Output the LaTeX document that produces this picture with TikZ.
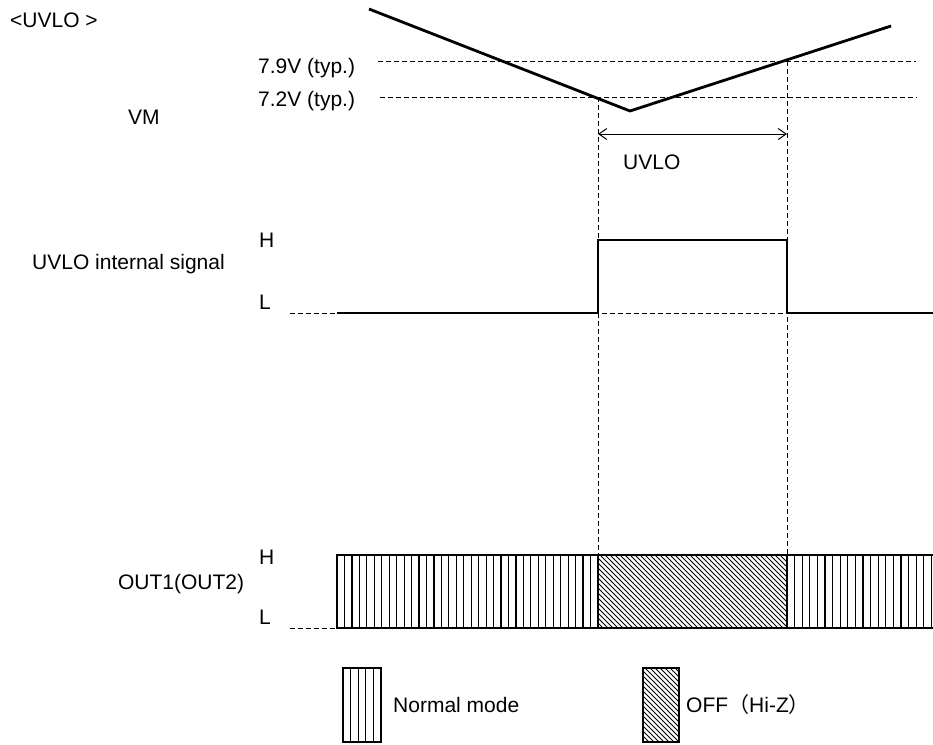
\documentclass[tikz,border=0pt]{standalone}
\usepackage{fontspec}
\setmainfont{Liberation Sans}
\newfontfamily\cjk{Noto Sans CJK JP}
\usetikzlibrary{arrows.meta}
\begin{document}
\begin{tikzpicture}[x=1pt,y=-1pt,
  lbl/.style={font=\fontsize{21}{24}\selectfont, inner sep=0pt, anchor=base west},
  sig/.style={line width=2.8pt, line join=miter},
  guide/.style={line width=0.9pt, dash pattern=on 4.5pt off 3.5pt},
  hatchv/.style={line width=1.2pt},
  hatchd/.style={line width=0.8pt},
  dimarrow/.style={line width=1pt, {Straight Barb[length=8pt,width=11pt]}-{Straight Barb[length=8pt,width=11pt]}}]
\useasboundingbox (0,0) rectangle (933,744);
\fill[white] (0,0) rectangle (933,744);

% ---------- labels ----------
\node[lbl] (title) at (10,27.5) {<UVLO >};
\node[lbl] (v79) at (258,73) {7.9V (typ.)};
\node[lbl] (v72) at (258,106) {7.2V (typ.)};
\node[lbl] (vm) at (128,124) {VM};
\node[lbl] (uvlo) at (623,169) {UVLO};
\node[lbl] (h1) at (259,247.5) {H};
\node[lbl] (l1) at (259,309.5) {L};
\node[lbl] (sig1) at (32,269.5) {UVLO internal signal};
\node[lbl] (h2) at (259,564.5) {H};
\node[lbl] (l2) at (259,624.5) {L};
\node[lbl, anchor=base] (sig2) at (181,589) {OUT1(OUT2)};
\node[lbl] (lg1) at (393,712.5) {Normal mode};
\node[lbl] (lg2) at (686,712.5) {OFF{\cjk （}Hi-Z{\cjk ）}};

% ---------- coordinates ----------
\coordinate (a) at (598,97);
\coordinate (b) at (787,61);

% ---------- guide lines ----------
\draw[guide] (378,61) -- (916,61);
\draw[guide] (380,97) -- (917,97);
\draw[guide] (a) -- (598,555);
\draw[guide] (b) -- (787,555);
\draw[guide] (290,313) -- (787,313);
\draw[guide] (290,628) -- (337,628);

% ---------- VM ----------
\draw[sig] (369,9) -- (630,111) -- (891,26);
\draw[dimarrow] (598,134) -- (787,134);

% ---------- UVLO internal signal ----------
\draw[sig] (337,313) -- (598,313) -- (598,240) -- (787,240) -- (787,313) -- (933,313);

% ---------- OUT band ----------
\foreach \i in {1,...,34} \draw[hatchv] ({337+\i*261/35},555) -- ++(0,73);
\foreach \i in {1,...,19} \draw[hatchv] ({787+\i*7.6},555) -- ++(0,73);
\begin{scope}
  \clip (598,555) rectangle (787,628);
  \foreach \i in {0,...,55} \draw[hatchd] ({525+\i*5},555) -- ++(73,73);
\end{scope}
\draw[sig] (933,555) -- (337,555) -- (337,628) -- (933,628);
\draw[sig] (598,555) -- (598,628);
\draw[sig] (787,555) -- (787,628);

% ---------- legend ----------
\foreach \i in {1,...,4} \draw[hatchv] ({343+\i*7.6},668) -- ++(0,74);
\draw[sig] (343,668) rectangle (381,742);
\begin{scope}
  \clip (643,668) rectangle (679,742);
  \foreach \i in {0,...,25} \draw[hatchd] ({560+\i*5},668) -- ++(74,74);
\end{scope}
\draw[sig] (643,668) rectangle (679,742);
\end{tikzpicture}
\end{document}
